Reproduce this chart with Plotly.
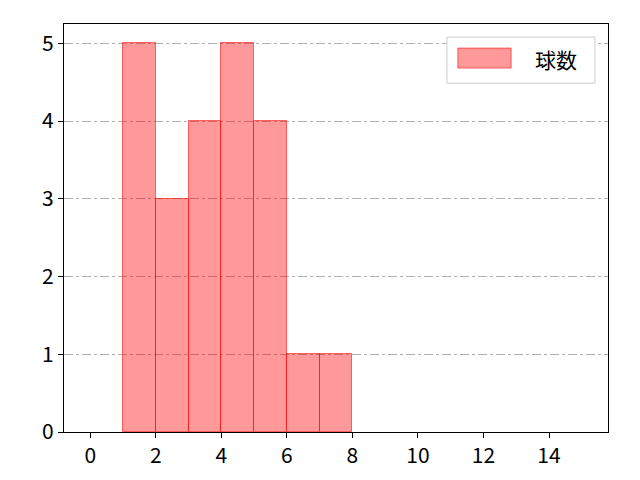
import plotly.graph_objects as go

# histogram of pitch counts (bin width 1)
bin_left = [1, 2, 3, 4, 5, 6, 7]
counts = [5, 3, 4, 5, 4, 1, 1]
series_name = "球数"

x_ticks = [0, 2, 4, 6, 8, 10, 12, 14]
y_ticks = [0, 1, 2, 3, 4, 5]

FILL = "rgba(255,0,0,0.4)"
EDGE = "rgba(255,0,0,0.55)"

centers = [b + 0.5 for b in bin_left]

fig = go.Figure()
fig.add_trace(
    go.Bar(
        x=centers, y=counts, width=1,
        name=series_name,
        marker=dict(color=FILL, line=dict(color=EDGE, width=1)),
        showlegend=False,
    )
)

# matplotlib-style legend box drawn by hand (upper right)
fig.add_shape(type="rect", xref="paper", yref="paper",
              x0=0.704, x1=0.976, y0=0.855, y1=0.968,
              line=dict(color="#cccccc", width=1), fillcolor="white")
fig.add_shape(type="rect", xref="paper", yref="paper",
              x0=0.724, x1=0.822, y0=0.892, y1=0.941,
              line=dict(color=EDGE, width=1), fillcolor=FILL)
fig.add_annotation(xref="paper", yref="paper", x=0.862, y=0.915,
                   xanchor="left", yanchor="middle",
                   text=series_name, showarrow=False,
                   font=dict(size=21, color="black"))

fig.update_layout(
    width=640, height=480,
    margin=dict(l=56, r=40, t=16, b=56),
    paper_bgcolor="white", plot_bgcolor="white",
    font=dict(family="Noto Sans CJK JP", size=21, color="black"),
    bargap=0,
)
fig.update_xaxes(
    range=[-0.8, 15.8], tickvals=x_ticks,
    showgrid=False, zeroline=False,
    showline=True, linecolor="black", linewidth=1.2, mirror=True,
    ticks="outside", ticklen=5, tickcolor="black",
)
fig.update_yaxes(
    range=[0, 5.25], tickvals=y_ticks,
    showgrid=True, gridcolor="#b0b0b0", gridwidth=1, griddash="dashdot",
    zeroline=False,
    showline=True, linecolor="black", linewidth=1.2, mirror=True,
    ticks="outside", ticklen=5, tickcolor="black",
)

fig.write_html("out.html")
